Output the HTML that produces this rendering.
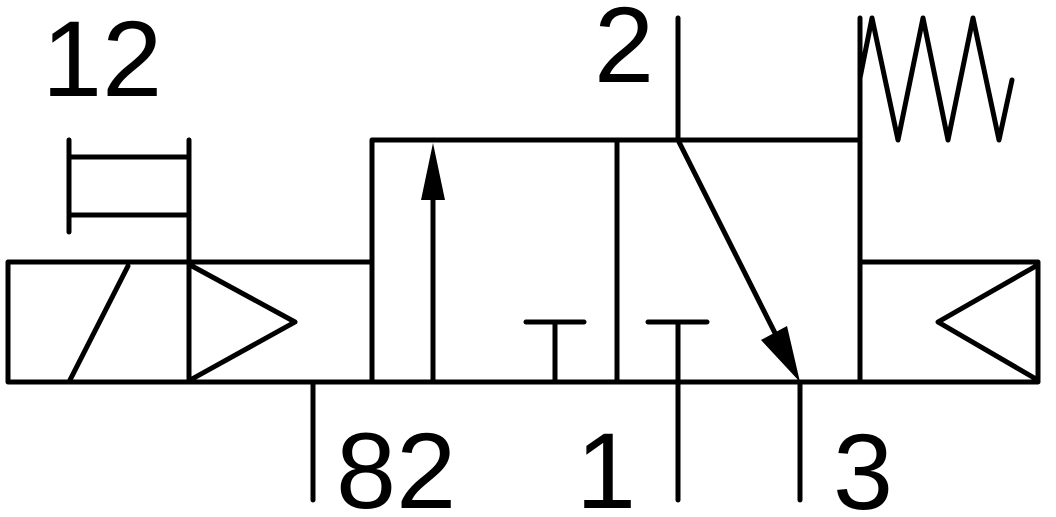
<!DOCTYPE html>
<html><head><meta charset="utf-8"><style>
html,body{margin:0;padding:0;background:#fff;}
svg{display:block}
text{font-family:"Liberation Sans",sans-serif;fill:#000;}
</style></head><body>
<svg width="1056" height="517" viewBox="0 0 1056 517" xmlns="http://www.w3.org/2000/svg">
<g stroke="#000" stroke-width="5" fill="none" stroke-linecap="round" stroke-linejoin="round">
<line x1="69" y1="140" x2="69" y2="232"/>
<line x1="189" y1="140" x2="189" y2="262"/>
<line x1="69" y1="157" x2="189" y2="157"/>
<line x1="69" y1="215" x2="189" y2="215"/>
<rect x="8" y="262" width="181" height="120"/>
<line x1="70" y1="380" x2="128" y2="266"/>
<rect x="189" y="262" width="183" height="120"/>
<polyline points="192,266 295,322 192,379"/>
<rect x="372" y="140" width="488" height="242"/>
<line x1="617" y1="140" x2="617" y2="382"/>
<line x1="433" y1="382" x2="433" y2="190"/>
<line x1="555" y1="322" x2="555" y2="382"/>
<line x1="526" y1="322" x2="584" y2="322"/>
<line x1="678" y1="322" x2="678" y2="500"/>
<line x1="648" y1="322" x2="707" y2="322"/>
<line x1="678" y1="18" x2="678" y2="140"/>
<line x1="678" y1="140" x2="775" y2="333"/>
<line x1="800" y1="382" x2="800" y2="500"/>
<line x1="313" y1="382" x2="313" y2="500"/>
<rect x="860" y="262" width="178" height="120"/>
<polyline points="1036,266 938,322 1036,379"/>
<line x1="860" y1="18" x2="860" y2="140"/>
<polyline points="860,78 872,18 898,140 923,18 948,140 973,18 999,140 1012,80"/>
</g>
<polygon points="433,143 421,200 445,200" fill="#000"/>
<polygon points="800,382 761,340 787,326" fill="#000"/>
<g font-size="108">
<text x="42" y="96">12</text>
<text x="594" y="82">2</text>
<text x="336" y="508">82</text>
<text x="576" y="508">1</text>
<text x="833" y="509">3</text>
</g>
</svg>
</body></html>
